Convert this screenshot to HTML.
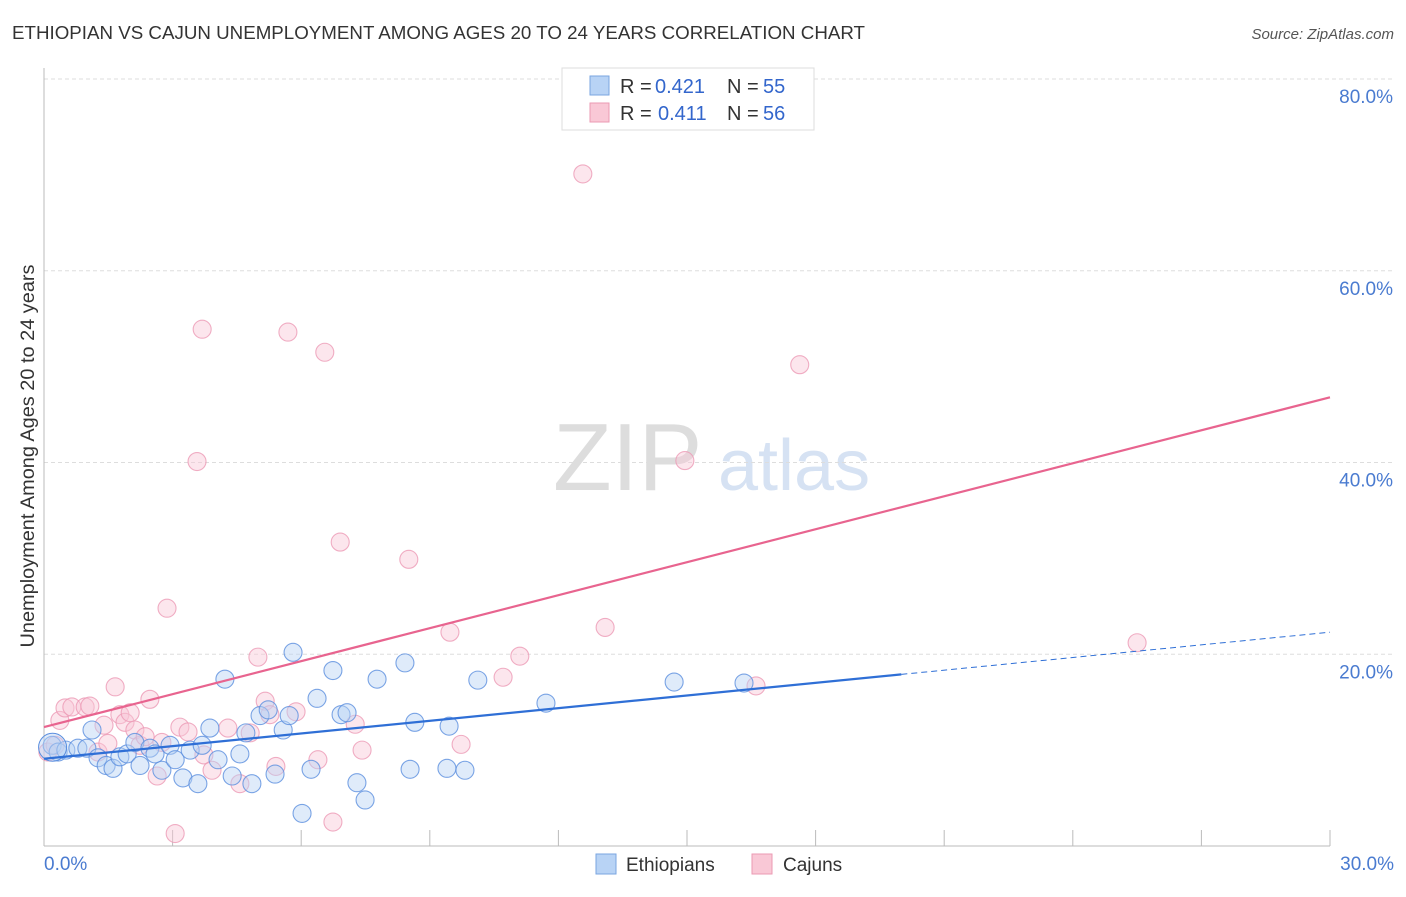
<!DOCTYPE html>
<html><head><meta charset="utf-8"><style>
body{margin:0;background:#fff;font-family:"Liberation Sans",sans-serif}
svg text{font-family:"Liberation Sans",sans-serif}
</style></head><body>
<svg id="chart" width="1406" height="892">
<text x="12" y="39" font-size="18" fill="#333" textLength="853" lengthAdjust="spacingAndGlyphs">ETHIOPIAN VS CAJUN UNEMPLOYMENT AMONG AGES 20 TO 24 YEARS CORRELATION CHART</text>
<text x="1394" y="39" font-size="15" font-style="italic" fill="#555" text-anchor="end">Source: ZipAtlas.com</text>
<g>
<text x="553" y="490" font-family="Liberation Serif,serif" font-size="96" fill="#ddd">ZIP</text>
<text x="718" y="490" font-size="72" fill="#d6e2f3">atlas</text>
</g>
<g id="grid"></g><g id="axes"></g><g id="marks"></g>
<g>
<rect x="562" y="68" width="252" height="62" fill="#fff" stroke="#ddd"/>
<rect x="590" y="76" width="19" height="19" fill="#b8d3f5" stroke="#7aa6e0"/>
<text y="93" font-size="20" fill="#333"><tspan x="620">R =</tspan><tspan x="655" fill="#3366cc">0.421</tspan><tspan x="727">N =</tspan><tspan x="763" fill="#3366cc">55</tspan></text>
<rect x="590" y="103" width="19" height="19" fill="#f9c8d6" stroke="#eb9ab3"/>
<text y="120" font-size="20" fill="#333"><tspan x="620">R =</tspan><tspan x="658" fill="#3366cc">0.411</tspan><tspan x="727">N =</tspan><tspan x="763" fill="#3366cc">56</tspan></text>
</g>
<g>
<rect x="596" y="854" width="20" height="20" fill="#b8d3f5" stroke="#7aa6e0"/>
<text x="626" y="871" font-size="19" fill="#333">Ethiopians</text>
<rect x="752" y="854" width="20" height="20" fill="#f9c8d6" stroke="#eb9ab3"/>
<text x="783" y="871" font-size="19" fill="#333">Cajuns</text>
</g>
</svg>
<script>
const yTicks=[20,40,60,80];
const xTickLabels=["0.0%","30.0%"];
const ethX=[0.19,0.33,0.51,0.79,1.0,1.12,1.26,1.45,1.61,1.77,1.94,2.12,2.24,2.47,2.59,2.75,2.94,3.06,3.24,3.41,3.59,3.69,3.87,4.06,4.22,4.39,4.57,4.71,4.85,5.04,5.23,5.39,5.58,5.72,5.81,6.02,6.23,6.37,6.74,6.93,7.07,7.3,7.49,7.77,8.42,8.65,8.54,9.4,9.45,9.82,10.12,11.71,14.7,16.33];
const ethY=[10.5,9.8,10.0,10.2,10.2,12.1,9.2,8.4,8.1,9.3,9.6,10.8,8.4,10.2,9.6,7.9,10.5,9.0,7.1,10.0,6.5,10.5,12.3,9.0,17.4,7.3,9.6,11.8,6.5,13.6,14.2,7.5,12.1,13.6,20.2,3.4,8.0,15.4,18.3,13.7,13.9,6.6,4.8,17.4,19.1,12.9,8.0,8.1,12.5,7.9,17.3,14.9,17.1,17.0];
const cajX=[0.09,0.26,0.37,0.49,0.65,0.96,1.07,1.26,1.4,1.49,1.66,1.77,1.89,2.01,2.12,2.24,2.36,2.47,2.64,2.75,2.87,3.06,3.17,3.36,3.57,3.69,3.73,3.92,4.29,4.57,4.81,4.99,5.16,5.27,5.41,5.69,5.88,6.39,6.55,6.74,6.91,7.26,7.42,8.51,9.47,9.73,10.71,11.1,12.57,13.09,14.95,16.61,17.63,25.5];
const cajY=[9.8,10.5,13.1,14.4,14.5,14.5,14.6,9.8,12.6,10.7,16.6,13.7,12.9,13.9,12.1,10.5,11.4,15.3,7.3,10.8,24.8,1.3,12.4,11.9,40.1,53.9,9.5,7.9,12.3,6.5,11.8,19.7,15.1,13.7,8.3,53.6,14.0,9.0,51.5,2.5,31.7,12.7,10.0,29.9,22.3,10.6,17.6,19.8,70.1,22.8,40.2,16.7,50.2,21.2];
const ethTrend=[9.1,22.3]; const cajTrend=[12.4,46.8]; const ethSolidEnd=20;
const NS="http://www.w3.org/2000/svg";
const X0=44,X1=1330,Y0=846,YTOP=79;
const sx=v=>X0+(v/30)*(X1-X0);
const sy=v=>Y0-(v/80)*(Y0-YTOP);
function mk(tag,attrs,parent){const e=document.createElementNS(NS,tag);for(const k in attrs)e.setAttribute(k,attrs[k]);parent.appendChild(e);return e;}
const grid=document.getElementById('grid'),axes=document.getElementById('axes'),marks=document.getElementById('marks');
yTicks.forEach(t=>{
 const l=mk('line',{x1:X0,x2:1395,y1:sy(t),y2:sy(t),stroke:'#ddd','stroke-dasharray':'4,3'},grid);
 
 
 const tx=mk('text',{x:1393,y:sy(t)+24,'font-size':19,fill:'#4a7bd0','text-anchor':'end'},axes);
 tx.textContent=t.toFixed(1)+'%';
 
 
});
let a=mk('line',{x1:X0,x2:X0,y1:68,y2:Y0,stroke:'#bbb'},axes);


a=mk('line',{x1:X0,x2:X1,y1:Y0,y2:Y0,stroke:'#bbb'},axes);


for(let i=1;i<=10;i++){const t=mk('line',{x1:sx(i*3),x2:sx(i*3),y1:Y0-16,y2:Y0,stroke:'#bbb'},axes);
 
 }
let t0=mk('text',{x:44,y:870,'font-size':19,fill:'#4a7bd0'},axes);t0.textContent=xTickLabels[0];


let t1=mk('text',{x:1394,y:870,'font-size':19,fill:'#4a7bd0','text-anchor':'end'},axes);t1.textContent=xTickLabels[1];


let yt=mk('text',{x:0,y:0,'font-size':19,fill:'#333','text-anchor':'middle',textLength:383,lengthAdjust:'spacingAndGlyphs',transform:'translate(34,456) rotate(-90)'},axes);
yt.textContent='Unemployment Among Ages 20 to 24 years';


function pts(xs,ys,fill,stroke,name){xs.forEach((x,i)=>{const c=mk('circle',{cx:sx(x),cy:sy(ys[i]),r:9,fill:fill,'fill-opacity':0.45,stroke:stroke,'stroke-opacity':0.8,'stroke-width':1.1},marks);
 
 });}
pts(cajX,cajY,'#f9c8d6','#ec9ab5','cajun');
pts(ethX,ethY,'#b8d3f5','#5b8ede','ethiopian');
let big=mk('circle',{cx:sx(0.2),cy:sy(10.3),r:14,fill:'#b8d3f5','fill-opacity':0.45,stroke:'#5b8ede'},marks);


const lin=(tr,x)=>tr[0]+(tr[1]-tr[0])*x/30;
let l=mk('line',{x1:sx(0),y1:sy(cajTrend[0]),x2:sx(30),y2:sy(cajTrend[1]),stroke:'#e8648f','stroke-width':2.2},marks);


l=mk('line',{x1:sx(0),y1:sy(ethTrend[0]),x2:sx(ethSolidEnd),y2:sy(lin(ethTrend,ethSolidEnd)),stroke:'#2f6fd6','stroke-width':2.2},marks);


l=mk('line',{x1:sx(ethSolidEnd),y1:sy(lin(ethTrend,ethSolidEnd)),x2:sx(30),y2:sy(ethTrend[1]),stroke:'#2f6fd6','stroke-width':1,'stroke-dasharray':'6,4'},marks);


</script>
</body></html>
